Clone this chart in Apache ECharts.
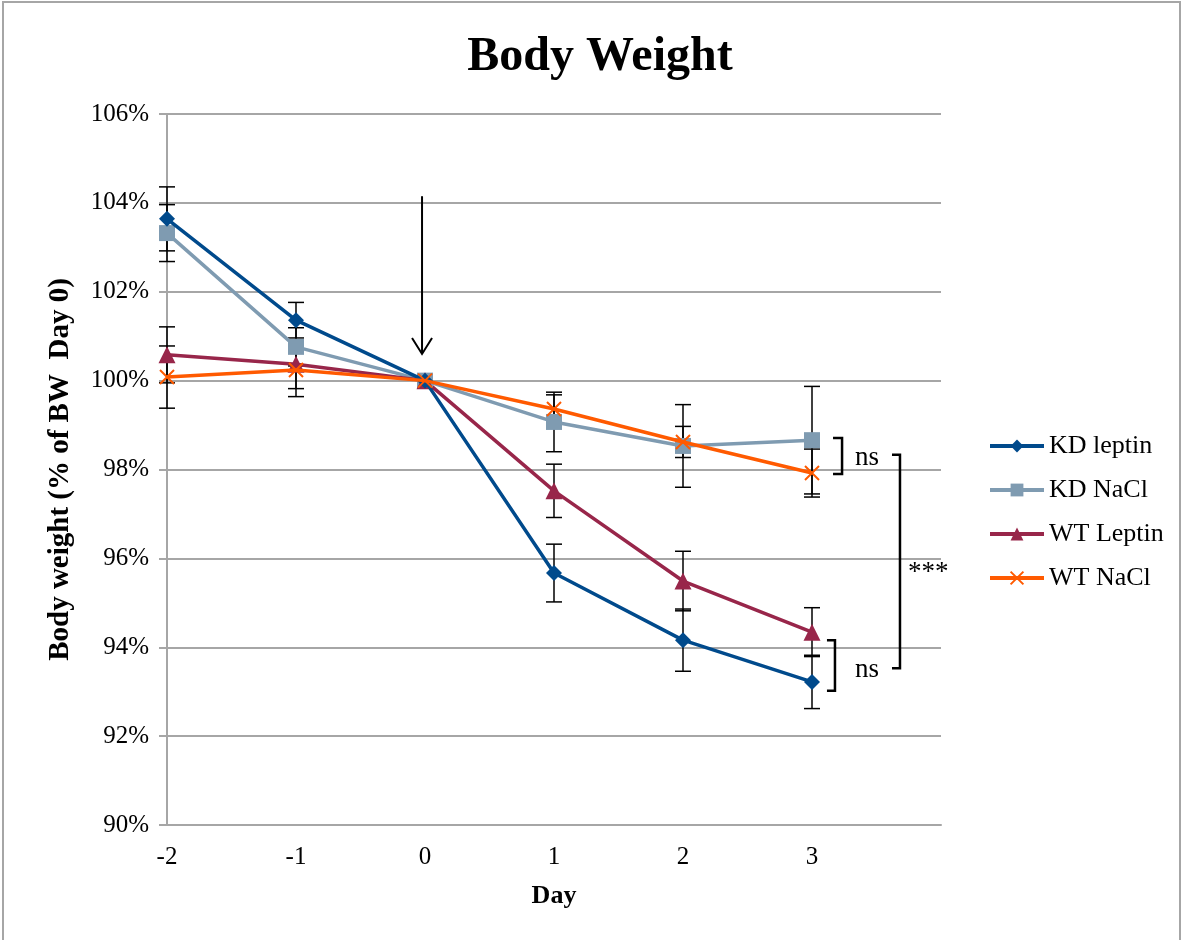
<!DOCTYPE html>
<html>
<head>
<meta charset="utf-8">
<script src="https://cdn.jsdelivr.net/npm/echarts@6/dist/echarts.min.js"></script>
<style>
  html, body { margin: 0; padding: 0; background: #fff; }
  #main { width: 1184px; height: 940px; }
</style>
</head>
<body>
<div id="main"></div>
<script>
// days on x axis
var days = [-2, -1, 0, 1, 2, 3];
// body weight, % of day 0
var kdLeptin = [103.64, 101.36, 100, 95.67, 94.16, 93.22];
var kdNacl   = [103.32, 100.76, 100, 99.07, 98.53, 98.66];
var wtLeptin = [100.58, 100.37, 100, 97.52, 95.49, 94.34];
var wtNacl   = [100.08, 100.24, 100, 99.36, 98.62, 97.92];
// error bars (+/-)
var kdLeptinErr = [0.72, 0.40, 0, 0.65, 0.70, 0.60];
var kdNaclErr   = [0.64, 0.43, 0, 0.67, 0.93, 1.21];
var wtLeptinErr = [0.63, 0.55, 0, 0.60, 0.67, 0.55];
var wtNaclErr   = [0.70, 0.60, 0, 0.32, 0.35, 0.54];

var font = 'Liberation Serif';
var myChart = echarts.init(document.getElementById('main'));

function pairs(vals) {
  return days.map(function (d, i) { return [d, vals[i]]; });
}
function errData(vals, errs) {
  return days.map(function (d, i) { return [d, vals[i], errs[i]]; });
}
// error bar drawing (black whiskers with caps)
function errSeries(vals, errs) {
  return {
    type: 'custom',
    z: 1,
    silent: true,
    data: errData(vals, errs),
    renderItem: function (params, api) {
      var e = api.value(2);
      if (!e) return null;
      var top = api.coord([api.value(0), api.value(1) + e]);
      var bot = api.coord([api.value(0), api.value(1) - e]);
      var w = 8;
      var st = { stroke: '#000', lineWidth: 1.5 };
      return {
        type: 'group',
        children: [
          { type: 'line', shape: { x1: top[0], y1: top[1], x2: bot[0], y2: bot[1] }, style: st },
          { type: 'line', shape: { x1: top[0] - w, y1: top[1], x2: top[0] + w, y2: top[1] }, style: st },
          { type: 'line', shape: { x1: bot[0] - w, y1: bot[1], x2: bot[0] + w, y2: bot[1] }, style: st }
        ]
      };
    }
  };
}

var crossPath = 'path://M0,0L10,10M10,0L0,10';

var option = {
  backgroundColor: '#fff',
  animation: false,
  title: {
    text: 'Body Weight',
    left: 595, top: 29, textAlign: 'center',
    textStyle: { fontFamily: font, fontSize: 48, fontWeight: 'bold', color: '#000' }
  },
  legend: {
    orient: 'vertical',
    left: 988, top: 433, padding: 0,
    itemWidth: 54, itemHeight: 16, itemGap: 18,
    lineStyle: { width: 4 },
    textStyle: { fontFamily: font, fontSize: 26, color: '#000' },
    data: ['KD leptin', 'KD NaCl', 'WT Leptin', 'WT NaCl']
  },
  grid: { left: 167, right: 243, top: 114, bottom: 115 },
  xAxis: {
    type: 'value',
    min: -2, max: 4, interval: 1,
    name: 'Day', nameLocation: 'middle', nameGap: 58,
    nameTextStyle: { fontFamily: font, fontSize: 26, fontWeight: 'bold', color: '#000' },
    axisLine: { onZero: false, lineStyle: { color: '#a6a6a6', width: 2 } },
    axisTick: { show: false },
    splitLine: { show: false },
    axisLabel: {
      fontFamily: font, fontSize: 25, color: '#000', margin: 20,
      formatter: function (v) { return v > 3 ? '' : String(v); }
    }
  },
  yAxis: {
    type: 'value',
    min: 90, max: 106, interval: 2,
    name: 'Body weight (% of BW  Day 0)', nameLocation: 'middle', nameGap: 92,
    nameTextStyle: { fontFamily: font, fontSize: 29, fontWeight: 'bold', color: '#000' },
    axisLine: { show: true, onZero: false, lineStyle: { color: '#a6a6a6', width: 2 } },
    axisTick: { show: true, length: 8, lineStyle: { color: '#a6a6a6', width: 2 } },
    splitLine: { lineStyle: { color: '#a6a6a6', width: 2 } },
    axisLabel: { fontFamily: font, fontSize: 25, color: '#000', margin: 18, formatter: '{value}%' }
  },
  series: [
    errSeries(kdLeptin, kdLeptinErr),
    errSeries(kdNacl, kdNaclErr),
    errSeries(wtLeptin, wtLeptinErr),
    errSeries(wtNacl, wtNaclErr),
    {
      name: 'KD leptin', type: 'line', z: 5, data: pairs(kdLeptin),
      symbol: 'diamond', symbolSize: 16,
      itemStyle: { color: '#004a8c' }, lineStyle: { color: '#004a8c', width: 3.5 }
    },
    {
      name: 'KD NaCl', type: 'line', z: 4, data: pairs(kdNacl),
      symbol: 'rect', symbolSize: 16,
      itemStyle: { color: '#7f9bb1' }, lineStyle: { color: '#7f9bb1', width: 3.5 }
    },
    {
      name: 'WT Leptin', type: 'line', z: 4, data: pairs(wtLeptin),
      symbol: 'triangle', symbolSize: 17,
      itemStyle: { color: '#98264a' }, lineStyle: { color: '#98264a', width: 3.5 }
    },
    {
      name: 'WT NaCl', type: 'line', z: 6, data: pairs(wtNacl),
      symbol: crossPath, symbolSize: 14,
      itemStyle: { color: 'none', borderColor: '#ff5a00', borderWidth: 2 },
      lineStyle: { color: '#ff5a00', width: 3.5 }
    }
  ]
};
myChart.setOption(option);

// annotations, given in data coordinates
var arrow = { x: -0.023, yTop: 104.15, yTip: 100.6 };
var brackets = [
  { x0: 3.163, x1: 3.233, y0: 98.71, y1: 97.90 },
  { x0: 3.116, x1: 3.178, y0: 94.16, y1: 93.02 },
  { x0: 3.620, x1: 3.682, y0: 98.33, y1: 93.53 }
];
var notes = [
  { x: 3.333, y: 98.26, text: 'ns' },
  { x: 3.333, y: 93.49, text: 'ns' },
  { x: 3.744, y: 95.67, text: '***' }
];
var px = function (x, y) { return myChart.convertToPixel({ gridIndex: 0 }, [x, y]); };
var gfx = [{
  type: 'rect', silent: true,
  shape: { x: 3, y: 2, width: 1177, height: 960 },
  style: { fill: 'none', stroke: '#a6a6a6', lineWidth: 2 }
}];
var at = px(arrow.x, arrow.yTop), ab = px(arrow.x, arrow.yTip);
gfx.push({
  type: 'polyline', silent: true,
  shape: { points: [[at[0], at[1]], [ab[0], ab[1]]] },
  style: { fill: 'none', stroke: '#000', lineWidth: 2 }
});
gfx.push({
  type: 'polyline', silent: true,
  shape: { points: [[ab[0] - 10, ab[1] - 16], [ab[0], ab[1]], [ab[0] + 10, ab[1] - 16]] },
  style: { fill: 'none', stroke: '#000', lineWidth: 2 }
});
brackets.forEach(function (b) {
  var a = px(b.x0, b.y0), c = px(b.x1, b.y1);
  gfx.push({
    type: 'polyline', silent: true,
    shape: { points: [[a[0], a[1]], [c[0], a[1]], [c[0], c[1]], [a[0], c[1]]] },
    style: { fill: 'none', stroke: '#000', lineWidth: 2.5 }
  });
});
notes.forEach(function (n) {
  var p = px(n.x, n.y);
  gfx.push({
    type: 'text', silent: true, x: p[0], y: p[1],
    style: { text: n.text, font: '27px "Liberation Serif"', fill: '#000', verticalAlign: 'middle' }
  });
});
myChart.setOption({ graphic: gfx });
</script>
</body>
</html>
